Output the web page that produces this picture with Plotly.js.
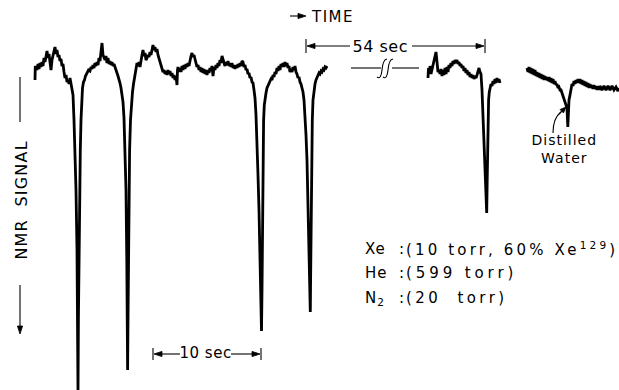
<!DOCTYPE html>
<html><head><meta charset="utf-8">
<script src="https://cdn.plot.ly/plotly-3.0.1.min.js"></script>
<style>html,body{margin:0;padding:0;background:#fff}#chart{width:619px;height:390px}</style>
</head><body><div id="chart"></div>
<script>
// Chart-paper position (x) and recorder pen deflection (y, downward = larger NMR signal)
const segment1 = [[35,80],[35.3,66],[37,70],[38,64],[39,69],[40,63],[41,67],[42,62],[43,66],[44,58],[45,62],[46,55],[47,51],[48,58],[49,54],[50,62],[51,70],[52,60],[53,55],[54,50],[55,47],[56,54],[57,50],[58,57],[59,55],[60,61],[61,59],[62,66],[63,64],[64,72],[65,78],[66,75],[67,82],[68,80],[69,84],[70,78],[71,83],[72,88],[73,95],[74,120],[75,150],[76,190],[77,250],[77.6,320],[78,392],[78.4,320],[79,250],[79.6,190],[80.3,150],[81,120],[81.7,100],[82.5,88],[83.5,82],[84.5,80],[85.5,76],[86.5,74],[87.5,72],[88.5,70],[90,71],[91,67],[92,69],[93,65],[94,68],[95,63],[96,66],[97,62],[98,65],[99,58],[100,61],[101,52],[102,43],[103,55],[104,58],[105,60],[106,56],[107,63],[108,58],[109,64],[110,61],[111,65],[112,62],[113,66],[114,64],[115,68],[116,70],[117,73],[118,76],[119,79],[120,83],[121,88],[122,94],[123,102],[124,118],[125,145],[126,190],[126.8,260],[127.3,320],[127.6,370],[128,320],[128.4,260],[128.9,200],[129.6,150],[130.5,120],[131.5,100],[132.5,92],[133.5,84],[134.5,78],[135.5,72],[136.5,68],[137,63],[138,66],[139,62],[140,67],[141,58],[142,55],[143,50],[144,56],[145,53],[146,60],[147,58],[148,55],[149,57],[150,52],[151,55],[152,48],[153,45],[154,50],[155,47],[156,52],[157,49],[158,55],[159,58],[160,61],[161,65],[162,68],[163,72],[164,70],[165,74],[166,71],[167,75],[168,70],[169,74],[170,71],[171,76],[172,73],[173,78],[174,75],[175,80],[176,76],[177,85],[177.5,70],[178,67],[179,72],[180,68],[181,72],[182,66],[183,70],[184,65],[185,69],[186,64],[187,67],[188,63],[189,66],[190,60],[191,56],[192,53],[193,57],[194,55],[195,60],[196,62],[197,67],[198,65],[199,70],[200,67],[201,72],[202,68],[203,73],[204,69],[205,74],[206,70],[207,75],[208,70],[209,73],[210,68],[211,71],[212,66],[213,76],[214,67],[215,70],[216,65],[217,68],[218,63],[219,66],[220,60],[221,63],[222,56],[223,59],[224,62],[225,66],[226,62],[227,65],[228,61],[229,66],[230,63],[231,67],[232,63],[233,68],[234,65],[235,69],[236,65],[237,68],[238,64],[239,67],[240,63],[241,66],[242,61],[243,62],[244,67],[245,65],[246,70],[247,69],[248,74],[249,73],[250,78],[251,77],[252,82],[253,83],[254,90],[255,98],[256,115],[257,140],[258,175],[259,210],[260,260],[261,300],[261.5,331],[262,290],[262.3,230],[262.6,180],[263,145],[263.6,120],[264.3,105],[265,97],[266,93],[267,88],[268,86],[269,84],[270,82],[271,79],[272,80],[273,75],[274,77],[275,72],[276,74],[277,68],[278,71],[279,66],[280,70],[281,64],[282,67],[283,63],[284,67],[285,62],[286,66],[287,63],[288,68],[289,66],[290,72],[291,69],[292,72],[293,67],[294,70],[295,66],[296,72],[297,74],[298,78],[299,77],[300,82],[301,84],[302,88],[303,92],[304,100],[305,115],[306,135],[307,160],[308,200],[309,250],[310,290],[310.3,312],[310.6,280],[311,230],[311.4,180],[311.8,145],[312.3,120],[313,100],[314,90],[315,84],[316,80],[317,77],[318,76],[319,73],[320,74],[321,71],[322,72],[323,69],[324,70],[325,67],[326,68],[327,66]];
const segment2 = [[428,78],[428.5,68],[429.5,72],[430,66],[431,74],[432,69],[433,66],[434,60],[435,55],[436,52],[437,62],[438,72],[439,70],[440,74],[441,69],[442,76],[443,70],[444,75],[445,68],[446,74],[447,67],[448,72],[449,65],[450,68],[451,63],[452,66],[453,61],[454,64],[455,60],[456,63],[457,60],[458,64],[459,62],[460,66],[461,64],[462,68],[463,66],[464,71],[465,68],[466,73],[467,70],[468,75],[469,72],[470,77],[471,74],[472,78],[473,75],[474,79],[475,76],[476,78],[477,75],[478,72],[479,68],[480,72],[481,74],[482,90],[483,115],[484,140],[485,170],[486,195],[486.7,213],[487.2,180],[487.6,140],[488,115],[488.6,100],[489.3,92],[490,87],[491,84],[492,86],[493,81],[494,84],[495,79],[496,83],[497,78],[498,82],[499,79],[500,83]];
const segment3 = [[527,68],[528,72],[529,67],[530,73],[531,68],[532,74],[533,69],[534,75],[535,70],[536,76],[537,72],[538,77],[539,73],[540,78],[541,74],[542,79],[543,75],[544,80],[545,76],[546,80],[547,77],[548,81],[549,77],[550,82],[551,78],[552,83],[553,79],[554,84],[555,81],[556,85],[557,84],[558,88],[559,87],[560,90],[561,90],[562,93],[563,95],[564,98],[565,101],[566,104],[567,108],[567.8,127],[568.4,108],[569,100],[570,95],[571,88],[572,84],[573,86],[574,81],[575,84],[576,80],[577,83],[578,79],[579,83],[580,79],[581,84],[582,80],[583,85],[584,81],[585,86],[586,82],[587,87],[588,83],[589,88],[590,84],[591,88],[592,85],[593,89],[594,85],[595,89],[596,86],[597,90],[598,86],[599,90],[600,86],[602,90],[604,86],[606,90],[608,86],[610,90],[612,86],[614,90],[616,87],[618,91],[619,88]];

const gasLabels = ["Xe", "He", "N<sub>2</sub>"];
const gasValues = ["(10 torr, 60% Xe<sup>129</sup>)", "(599 torr)", "(20  torr)"];

const FONT = "DejaVu Sans";
function seg(s){ return {x:s.map(p=>p[0]), y:s.map(p=>p[1]), mode:'lines', type:'scatter',
  line:{color:'#000', width:2.8}, hoverinfo:'skip', showlegend:false}; }
const data = [seg(segment1), seg(segment2), seg(segment3)];

const ls = [];
const ann = [];
function txt(text, x, y, size, o={}, spacing=0){
  ann.push(Object.assign({text, x, y, xref:'x', yref:'y', showarrow:false,
    font:{family:FONT, size, color:'#000'}, xanchor:'center', yanchor:'middle', align:'center'}, o));
  ls.push(spacing);
}
const shapes = [];
function ln(x0,y0,x1,y1,w=1.1){ shapes.push({type:'line',xref:'x',yref:'y',x0,y0,x1,y1,line:{color:'#000',width:w}}); }
function path(d,w=1.1,fill){ shapes.push({type:'path',xref:'x',yref:'y',path:d,line:{color:'#000',width:w},fillcolor:fill||'rgba(0,0,0,0)'}); }
function arrow(hx, hy, tx, ty, L=8, W=2.6){
  const dx = hx-tx, dy = hy-ty, n = Math.hypot(dx,dy), ux = dx/n, uy = dy/n;
  const bx = hx-ux*L, by = hy-uy*L;
  ln(tx,ty,bx,by);
  path(`M ${hx},${hy} L ${bx-uy*W},${by+ux*W} L ${bx+uy*W},${by-ux*W} Z`, 0.8, '#000');
}

// TIME
txt("TIME", 309, 17, 15, {xanchor:'left', align:'left'}, 1.5);
arrow(306, 16, 290, 16);
// 54 sec
txt("54 sec", 380, 46, 16, {}, 0.5);
arrow(307, 46, 350, 46); arrow(484, 46, 412, 46);
ln(306,39,306,53); ln(485,39,485,53);
// break
ln(351,68,381,68); ln(392,68,419,68);
path("M 377,77 Q 381,80 382,70 Q 383,59 387,59");
path("M 383,77 Q 387,80 388,70 Q 389,59 393,59");
// 10 sec
txt("10 sec", 205, 353, 15, {}, 0.5);
arrow(154, 354, 180, 354); arrow(260, 354, 231, 354);
ln(153,348,153,360); ln(261,348,261,360);
// NMR SIGNAL
txt("NMR  SIGNAL", 21, 200, 16, {textangle:-90}, 1.2);
ln(20,77,20,122);
arrow(20, 334, 20, 285);
// gas composition
const rows = [249, 273, 298];
const rowSpacing = [3.15, 3.9, 3.4];
for (let i=0;i<3;i++){
  txt(gasLabels[i], 363, rows[i], 15, {xanchor:'left', align:'left'}, 1);
  txt(":", 397, rows[i], 15, {xanchor:'left', align:'left'}, 0);
  txt(gasValues[i], 404, rows[i], 15, {xanchor:'left', align:'left'}, rowSpacing[i]);
}
// Distilled water
txt("Distilled<br>Water", 564, 149, 14, {}, 1);
path("M 553,133 Q 553,118 561,112", 1.1);
arrow(566, 107, 559, 114, 6, 2.4);

const layout = {width:619, height:390, margin:{l:0,r:0,t:0,b:0},
  paper_bgcolor:'#fff', plot_bgcolor:'#fff', showlegend:false,
  xaxis:{range:[0,619], visible:false, fixedrange:true},
  yaxis:{range:[390,0], visible:false, fixedrange:true},
  annotations:ann, shapes:shapes};
Plotly.newPlot('chart', data, layout, {staticPlot:true}).then(()=>{
  document.querySelectorAll('g.annotation').forEach(g=>{
    const i = +g.getAttribute('data-index');
    if (ls[i]) g.querySelectorAll('text').forEach(t=>t.style.letterSpacing = ls[i]+'px');
  });
});
</script></body></html>
